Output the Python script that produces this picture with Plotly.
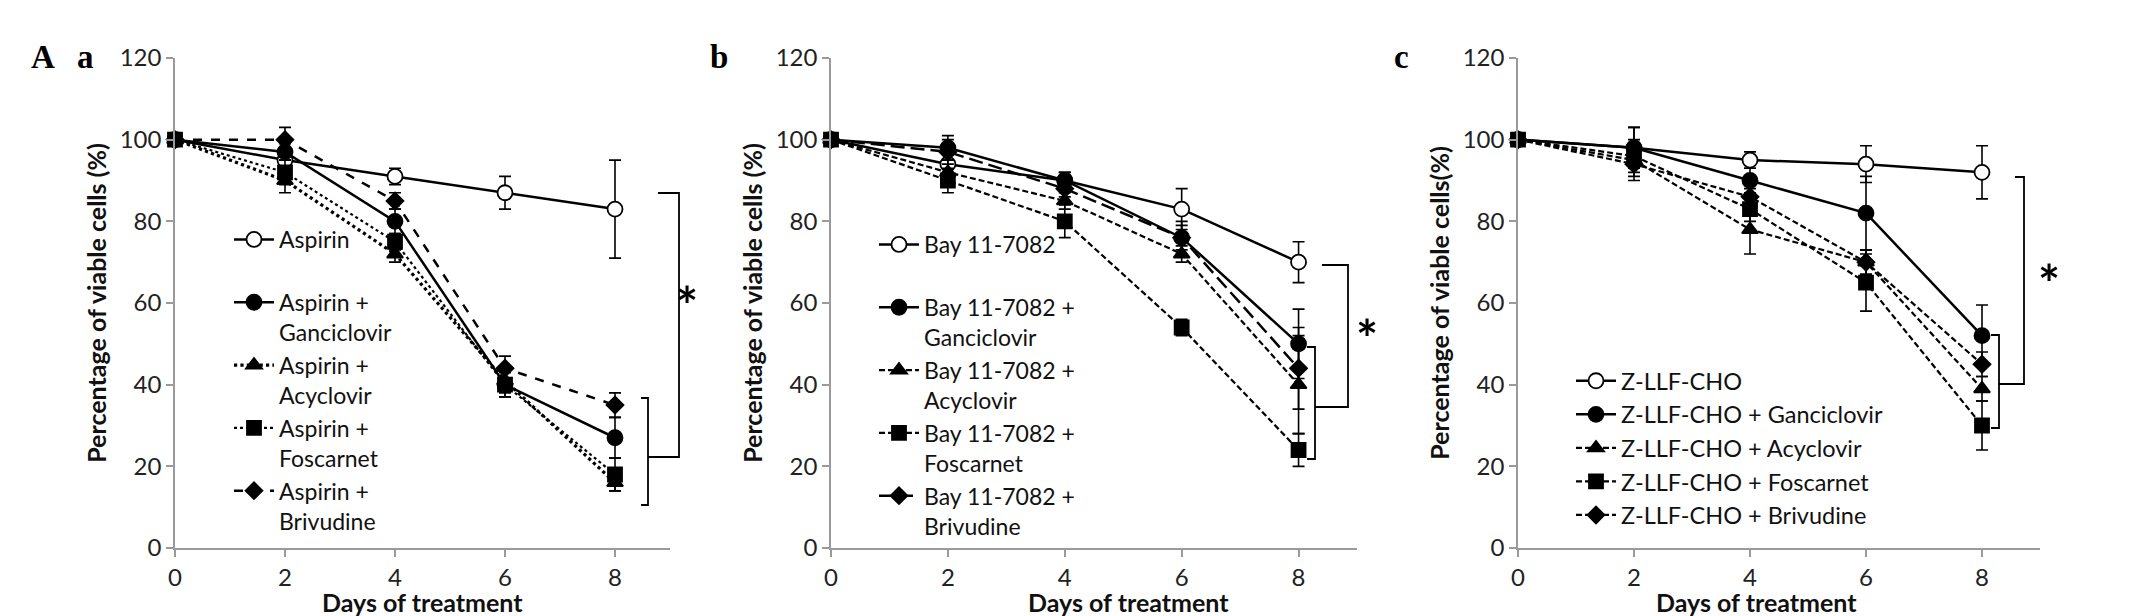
"""Viability of cells over time under protease/NF-kB inhibitors with antivirals."""

import plotly.graph_objects as go

W, H = 2143, 616

days = [0, 2, 4, 6, 8]
tick_vals = [0, 2, 4, 6, 8]
y_ticks = [0, 20, 40, 60, 80, 100, 120]

# panel a: Aspirin
a_names = ["Aspirin", "Aspirin +<br>Ganciclovir", "Aspirin +<br>Acyclovir",
           "Aspirin +<br>Foscarnet", "Aspirin +<br>Brivudine"]
a_aspirin = [100, 95, 91, 87, 83]
a_ganciclovir = [100, 97, 80, 40, 27]
a_acyclovir = [100, 90, 72, 41, 16]
a_foscarnet = [100, 92, 75, 40, 18]
a_brivudine = [100, 100, 85, 44, 35]
a_err = [
    [0, 2, 2, 4, 12],
    [0, 2, 3, 3, 5],
    [0, 3, 2, 3, 2],
    [0, 3, 2, 3, 4],
    [0, 3, 2, 3, 3],
]

# panel b: Bay 11-7082
b_names = ["Bay 11-7082", "Bay 11-7082 +<br>Ganciclovir", "Bay 11-7082 +<br>Acyclovir",
           "Bay 11-7082 +<br>Foscarnet", "Bay 11-7082 +<br>Brivudine"]
b_bay = [100, 94, 90, 83, 70]
b_ganciclovir = [100, 98, 90, 76, 50]
b_acyclovir = [100, 92, 85, 72, 40]
b_foscarnet = [100, 90, 80, 54, 24]
b_brivudine = [100, 97, 88, 76, 44]
b_err = [
    [0, 4, 2, 5, 5],
    [0, 3, 2, 4, 8.5],
    [0, 3, 2, 2, 12],
    [0, 3, 4, 2, 4],
    [0, 3, 2, 3, 10],
]

# panel c: Z-LLF-CHO
c_names = ["Z-LLF-CHO", "Z-LLF-CHO + Ganciclovir", "Z-LLF-CHO + Acyclovir",
           "Z-LLF-CHO + Foscarnet", "Z-LLF-CHO + Brivudine"]
c_zllf = [100, 98, 95, 94, 92]
c_ganciclovir = [100, 98, 90, 82, 52]
c_acyclovir = [100, 95, 78, 70, 39]
c_foscarnet = [100, 96, 83, 65, 30]
c_brivudine = [100, 94, 86, 70, 45]
c_err = [
    [0, 5, 2, 4.5, 6.5],
    [0, 5, 3, 9, 7.5],
    [0, 4, 6, 3, 3],
    [0, 4, 3, 7, 6],
    [0, 4, 2, 3, 3],
]

SANS = "Lato, 'Open Sans', sans-serif"
SERIF = "'Liberation Serif', 'DejaVu Serif', serif"
AXIS_GREY = "#9a9a9a"


def px(x):
    return x / W


def py(y):
    return 1 - y / H


symbols = ["circle", "circle", "triangle-up", "square", "diamond"]
fills = ["white", "black", "black", "black", "black"]
sizes = [15, 15, 14, 14, 13]

panels = [
    dict(
        names=[n if "<br>" in n else n + "<br> " for n in a_names],
        series=[a_aspirin, a_ganciclovir, a_acyclovir, a_foscarnet, a_brivudine],
        errors=a_err,
        dashes=["solid", "solid", "dot", "dot", "dash"],
        widths=[2.5, 2.5, 3.2, 2.2, 2.5],
        domain=[167, 662],
        legend=dict(x=221, y=210, size=23),
        xtitle_x=414,
        ytitle="Percentage of viable cells (%)",
    ),
    dict(
        names=[n if "<br>" in n else n + "<br> " for n in b_names],
        series=[b_bay, b_ganciclovir, b_acyclovir, b_foscarnet, b_brivudine],
        errors=b_err,
        dashes=["solid", "solid", "6px,3px", "6px,3px", "14px,6px"],
        widths=[2.5, 2.5, 2.2, 2.2, 2.5],
        domain=[823, 1349],
        legend=dict(x=866, y=215, size=23),
        xtitle_x=1120,
        ytitle="Percentage of viable cells (%)",
    ),
    dict(
        names=c_names,
        series=[c_zllf, c_ganciclovir, c_acyclovir, c_foscarnet, c_brivudine],
        errors=c_err,
        dashes=["solid", "solid", "6px,3px", "6px,3px", "6px,3px"],
        widths=[2.5, 2.5, 2.2, 2.2, 2.2],
        domain=[1510, 2032],
        legend=dict(x=1563, y=351, size=23.5),
        xtitle_x=1748,
        ytitle="Percentage of viable cells(%)",
    ),
]

fig = go.Figure()

for i, p in enumerate(panels):
    ax = "" if i == 0 else str(i + 1)
    leg = "legend" if i == 0 else f"legend{i + 1}"
    for j, vals in enumerate(p["series"]):
        fig.add_trace(
            go.Scatter(
                x=days,
                y=vals,
                name=p["names"][j],
                mode="lines+markers",
                xaxis="x" + ax,
                yaxis="y" + ax,
                legend=leg,
                cliponaxis=False,
                line=dict(color="black", width=p["widths"][j], dash=p["dashes"][j]),
                marker=dict(
                    symbol=symbols[j],
                    size=sizes[j],
                    color=fills[j],
                    line=dict(color="black", width=1.8),
                ),
                error_y=dict(
                    type="data",
                    array=p["errors"][j],
                    color="black",
                    thickness=1.6,
                    width=6,
                ),
            )
        )

    axis_common = dict(
        showgrid=False,
        zeroline=False,
        showline=True,
        automargin=False,
        linecolor=AXIS_GREY,
        linewidth=1.5,
        ticks="outside",
        tickcolor=AXIS_GREY,
        tickwidth=1.5,
        ticklen=7,
        tickfont=dict(family=SANS, size=24, color="#222"),
    )
    fig.update_layout(
        {
            "xaxis" + ax: dict(
                axis_common,
                domain=[px(p["domain"][0]), px(p["domain"][1])],
                range=[0, 9],
                tickvals=tick_vals,
                anchor="y" + ax,
            ),
            "yaxis" + ax: dict(
                axis_common,
                domain=[py(540), py(50)],
                range=[0, 120],
                tickvals=y_ticks,
                anchor="x" + ax,
                title=dict(text="<b>" + p["ytitle"] + "</b>", standoff=6,
                           font=dict(family=SANS, size=25, color="#111")),
            ),
            leg: dict(
                x=px(p["legend"]["x"]),
                y=py(p["legend"]["y"]),
                xanchor="left",
                yanchor="top",
                bgcolor="rgba(0,0,0,0)",
                font=dict(family=SANS, size=p["legend"]["size"], color="#111"),
                valign="top",
                itemwidth=40,
                tracegroupgap=0,
            ),
        }
    )
    # x-axis title sits tight under the tick labels, as in the original
    fig.add_annotation(
        x=px(p["xtitle_x"]), y=py(594), xref="paper", yref="paper",
        xanchor="center", yanchor="middle",
        text="<b>Days of treatment</b>", showarrow=False,
        font=dict(family=SANS, size=25, color="#111"),
    )

# significance brackets (pixel positions)
brackets = [
    # big bracket, small bracket, asterisk
    dict(big=(650, 671, 185, 449), small=(633, 640, 390, 497), star=(679, 297)),
    dict(big=(1314, 1340, 257, 399), small=(1299, 1307, 339, 451), star=(1359, 330)),
    dict(big=(2007, 2016, 169, 376), small=(1983, 1991, 327, 420), star=(2041, 275)),
]
for b in brackets:
    x0, x1, y0, y1 = b["big"]
    sx0, sx1, sy0, sy1 = b["small"]
    fig.add_shape(
        type="path",
        xref="paper",
        yref="paper",
        path=f"M {px(x0)} {py(y0)} L {px(x1)} {py(y0)} L {px(x1)} {py(y1)} L {px(sx1)} {py(y1)}",
        line=dict(color="black", width=1.8),
    )
    fig.add_shape(
        type="path",
        xref="paper",
        yref="paper",
        path=f"M {px(sx0)} {py(sy0)} L {px(sx1)} {py(sy0)} L {px(sx1)} {py(sy1)} L {px(sx0)} {py(sy1)}",
        line=dict(color="black", width=1.8),
    )
    fig.add_annotation(
        x=px(b["star"][0]), y=py(b["star"][1]), xref="paper", yref="paper",
        xanchor="center", yanchor="middle",
        text="<b>*</b>", showarrow=False,
        font=dict(family=SANS, size=52, color="black"),
    )

# panel letters
for text, x in [("A", 35), ("a", 77), ("b", 711), ("c", 1393)]:
    fig.add_annotation(
        x=px(x), y=py(49), xref="paper", yref="paper",
        xanchor="center", yanchor="middle",
        text=f"<b>{text}</b>", showarrow=False,
        font=dict(family=SERIF, size=33, color="black"),
    )

fig.update_layout(
    width=W,
    height=H,
    margin=dict(l=0, r=0, t=0, b=0, autoexpand=False),
    paper_bgcolor="white",
    plot_bgcolor="white",
    showlegend=True,
)

fig.write_html("out.html")
